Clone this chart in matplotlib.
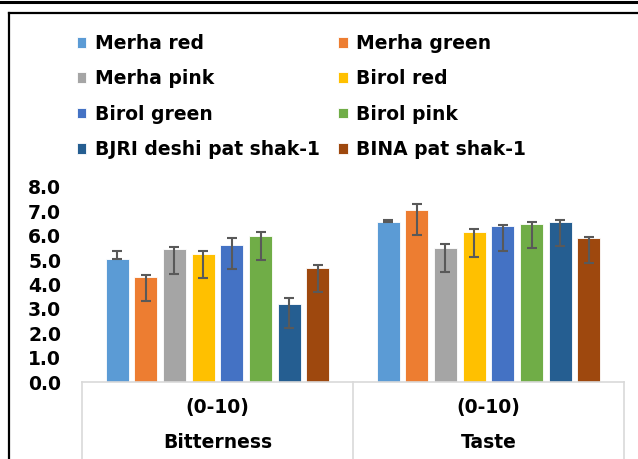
import numpy as np
import matplotlib.pyplot as plt
from matplotlib.lines import Line2D
import matplotlib.transforms as mtransforms

# Sensory scores
attributes = ['Bitterness', 'Taste']
scale_label = '(0-10)'
varieties = ['Merha red', 'Merha green', 'Merha pink', 'Birol red',
             'Birol green', 'Birol pink', 'BJRI deshi pat shak-1', 'BINA pat shak-1']
colors = ['#5B9BD5', '#ED7D31', '#A5A5A5', '#FFC000',
          '#4472C4', '#70AD47', '#255E91', '#9E480E']

bitterness = [5.05, 4.32, 5.44, 5.27, 5.64, 6.01, 3.20, 4.69]
bitter_hi = [5.37, 4.41, 5.52, 5.37, 5.90, 6.15, 3.43, 4.82]
bitter_lo = [5.05, 3.33, 4.44, 4.28, 4.64, 5.01, 2.21, 3.69]

taste = [6.58, 7.04, 5.51, 6.17, 6.42, 6.50, 6.58, 5.89]
taste_hi = [6.64, 7.30, 5.66, 6.27, 6.43, 6.56, 6.65, 5.96]
taste_lo = [6.58, 6.05, 4.52, 5.14, 5.38, 5.51, 5.59, 4.89]

values = np.array([bitterness, taste])
highs = np.array([bitter_hi, taste_hi])
lows = np.array([bitter_lo, taste_lo])

W, H = 638, 459
fs = 13.5
plt.rcParams['font.family'] = 'DejaVu Sans'
plt.rcParams['font.weight'] = 'bold'

fig = plt.figure(figsize=(W / 100, H / 100), dpi=100)
ax = fig.add_axes([82 / W, 77 / H, (624 - 82) / W, 195 / H])

x = np.arange(len(attributes))
step = 28.7 / 271
width = 0.085
handles = []
for i, name in enumerate(varieties):
    xpos = x + (i - 3.5) * step
    v = values[:, i]
    err = [v - lows[:, i], highs[:, i] - v]
    b = ax.bar(xpos, v, width, color=colors[i], edgecolor='white', linewidth=0.6,
               label=name, zorder=2)
    ax.errorbar(xpos, v, yerr=err, fmt='none', ecolor='#595959', elinewidth=1.5,
                capsize=3.6, capthick=1.5, zorder=3)
    handles.append(b)

ax.set_xlim(-0.5, 1.5)
ax.set_ylim(0, 8)
ax.set_yticks(np.arange(0, 8.1, 1.0))
ax.set_yticklabels([f'{t:.1f}' for t in np.arange(0, 8.1, 1.0)], fontsize=fs, fontweight='bold')
ax.tick_params(axis='y', length=0, pad=15)
ax.set_xticks([])
for s in ['top', 'right', 'left']:
    ax.spines[s].set_visible(False)
ax.spines['bottom'].set_color('#D9D9D9')
ax.spines['bottom'].set_linewidth(1.2)

# multi-level category boxes
trans = mtransforms.blended_transform_factory(ax.transData, ax.transAxes)
for xb in [-0.5, 0.5, 1.5]:
    ax.plot([xb, xb], [0, -0.45], transform=trans, color='#D9D9D9', lw=1.2, clip_on=False)
for xi, name in zip(x, attributes):
    ax.text(xi, -(408 - 382) / 195, scale_label, transform=trans, ha='center', va='center',
            fontsize=fs, fontweight='bold')
    ax.text(xi, -(443 - 382) / 195, name, transform=trans, ha='center', va='center',
            fontsize=fs, fontweight='bold')

# legend in row-major order like Excel
order = [0, 2, 4, 6, 1, 3, 5, 7]
fig.legend([handles[k] for k in order], [varieties[k] for k in order], ncol=2,
           loc='upper left', bbox_to_anchor=(77 / W, 1 - 34 / H), frameon=False,
           prop={'size': fs, 'weight': 'bold'}, handlelength=0.5, handleheight=0.5,
           handletextpad=0.45, labelspacing=0.87, columnspacing=1.0, borderpad=0,
           borderaxespad=0)

# chart frame
fig.add_artist(Line2D([0, 1], [1 - 1.5 / H, 1 - 1.5 / H], color='black', lw=2.2))
fig.add_artist(Line2D([9 / W, 1], [1 - 13 / H, 1 - 13 / H], color='black', lw=1.6))
fig.add_artist(Line2D([9 / W, 9 / W], [0, 1 - 13 / H], color='black', lw=1.6))

fig.savefig('out.png', dpi=100)
